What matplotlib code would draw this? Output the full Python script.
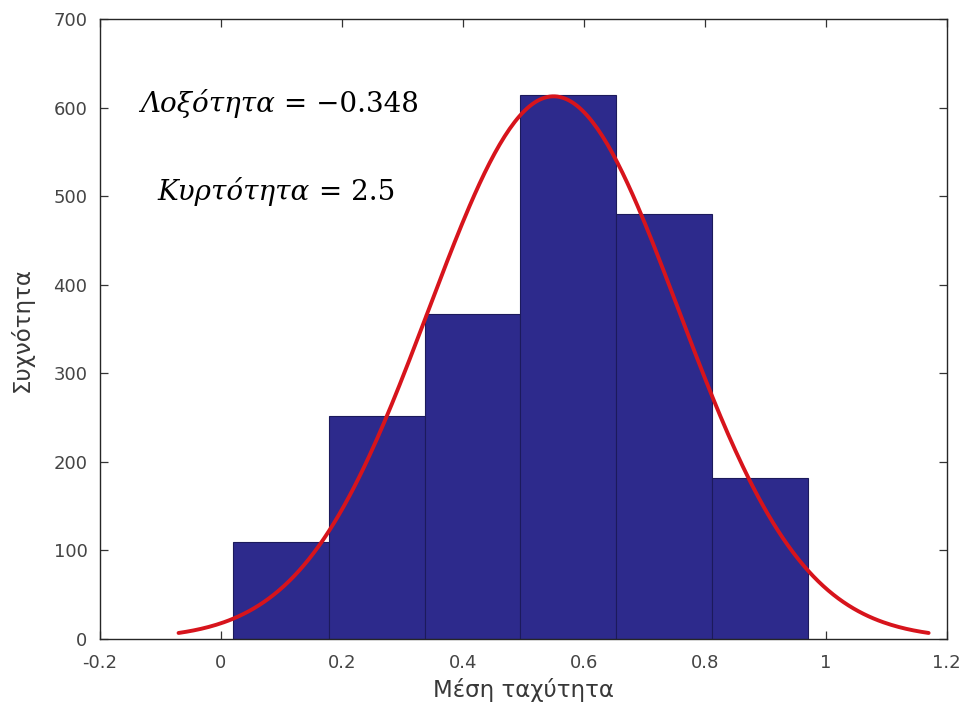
import numpy as np
import matplotlib
matplotlib.use("Agg")
import matplotlib.pyplot as plt

# histogram of mean speed (bin edges and counts)
bin_edges = [0.020, 0.178, 0.337, 0.495, 0.653, 0.812, 0.970]
counts = [110, 252, 367, 614, 480, 182]

# normal fit parameters
mu = 0.55
sigma = 0.2067

skewness = "−0.348"
kurtosis = "2.5"

xticks = [-0.2, 0, 0.2, 0.4, 0.6, 0.8, 1, 1.2]
xticklabels = ["-0.2", "0", "0.2", "0.4", "0.6", "0.8", "1", "1.2"]
yticks = [0, 100, 200, 300, 400, 500, 600, 700]

plt.rcParams['font.family'] = ['DejaVu Sans']

fig = plt.figure(figsize=(9.68, 7.2), dpi=100)
ax = fig.add_axes([0.1033, 0.1125, 0.8747, 0.8611])

edges = np.array(bin_edges)
widths = np.diff(edges)
ax.bar(edges[:-1], counts, width=widths, align='edge',
       color='#2d2a8c', edgecolor='#1c1a5c', linewidth=0.8, zorder=2)

# fitted normal curve scaled to the histogram (mu +- 3 sigma)
bw = widths.mean()
n = sum(counts)
xf = np.linspace(mu - 3 * sigma, mu + 3 * sigma, 300)
yf = n * bw / (sigma * np.sqrt(2 * np.pi)) * np.exp(-0.5 * ((xf - mu) / sigma) ** 2)
ax.plot(xf, yf, color='#d7141c', linewidth=2.8, solid_capstyle='round', zorder=3)

ax.set_xlim(-0.2, 1.2)
ax.set_ylim(0, 700)
ax.set_xticks(xticks)
ax.set_xticklabels(xticklabels)
ax.set_yticks(yticks)
ax.tick_params(direction='in', length=6, width=0.9, top=True, right=True,
               labelsize=13, colors='#333333', labelcolor='#444444')
ax.tick_params(axis='x', pad=11)
ax.tick_params(axis='y', pad=9)
for s in ax.spines.values():
    s.set_color('#262626')
    s.set_linewidth(1)

ax.set_xlabel("Μέση ταχύτητα", fontsize=16.5, color='#383838', labelpad=4)
ax.set_ylabel("Συχνότητα", fontsize=16.5, color='#383838', labelpad=14)

# skewness / kurtosis labels: italic word followed by upright value
def stat_label(x, y, word, value):
    t1 = ax.text(x, y, word, transform=ax.transAxes, fontsize=20,
                 family='DejaVu Serif', style='italic', va='baseline', ha='left')
    ax.annotate(" = " + value, xy=(1, 0), xycoords=t1, fontsize=20,
                family='DejaVu Serif', va='bottom', ha='left')

stat_label(0.047, 0.85, "Λοξότητα", skewness)
stat_label(0.068, 0.708, "Κυρτότητα", kurtosis)

fig.savefig("out.png", dpi=100)
